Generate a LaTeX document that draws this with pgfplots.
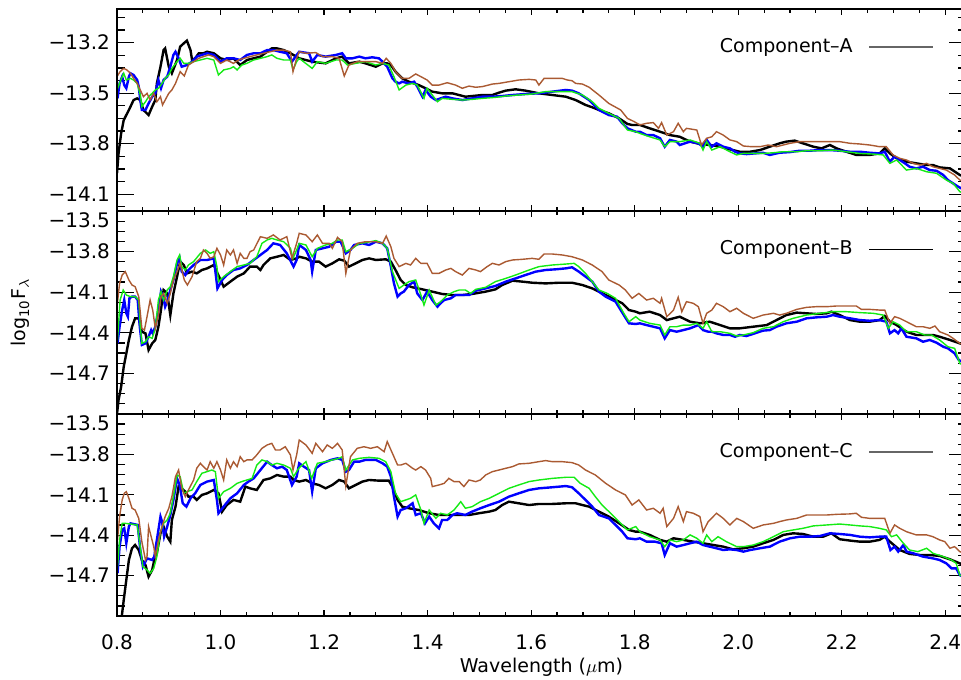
\documentclass[border=0pt]{standalone}
\usepackage{pgfplots}
\pgfplotsset{compat=1.18}
\usepackage{fontspec}
\setmainfont{DejaVu Sans}
\definecolor{cblue}{RGB}{0,0,255}
\definecolor{cgreen}{RGB}{20,235,20}
\definecolor{cbrown}{RGB}{170,90,50}
\pgfplotsset{
  frame/.style 2 args={
    at={(58.5pt,#1)}, anchor=north west,
    scale only axis, width=424.5pt, height=#2,
    xmin=0.8, xmax=2.44,
    xtick={0.8,1.0,1.2,1.4,1.6,1.8,2.0,2.2,2.4},
    axis line style={line width=0.9pt},
    tick style={line width=0.6pt,black},
    tick align=inside,
    ticklabel style={font=\fontsize{10}{12}\selectfont},
    xticklabel style={yshift=-6pt},
    label style={font=\fontsize{9.5}{11}\selectfont},
  },
  panel/.style 2 args={frame={#1}{#2},
    major tick length=8.5pt, minor tick length=4pt,
    xtick style={draw=none}},
  xticks/.style 2 args={frame={#1}{#2},
    ytick=\empty, xticklabels={}, minor x tick num=3,
    major tick length=3pt, minor tick length=2pt},
  black line/.style={black,line width=1.2pt},
  blue line/.style={cblue,line width=1.2pt},
  green line/.style={cgreen,line width=0.7pt},
  brown line/.style={cbrown,line width=0.7pt},
}
\newcommand{\legtext}[2]{%
  \node[anchor=east,inner sep=0pt,font=\fontsize{9.5}{11}\selectfont] at (rel axis cs:0.867,0.812) {Component–#1};
  \draw[#2,line width=0.65pt] (rel axis cs:0.886,0.812) -- (rel axis cs:0.961,0.812);
}
\newcommand{\toplab}{\smash{\raisebox{-8.1pt}{−13.5}}}
\begin{document}
\begin{tikzpicture}
\useasboundingbox (0,0) rectangle (480.5pt,339.5pt);
% ---------------- Panel A ----------------
\begin{axis}[panel={335pt}{101pt},
  ymin=-14.2, ymax=-13.0,
  ytick={-13.2,-13.5,-13.8,-14.1},
  yticklabels={−13.2,−13.5,−13.8,−14.1},
  minor ytick={-13.05,-13.125,-13.275,-13.35,-13.425,-13.575,-13.65,-13.725,-13.875,-13.95,-14.025,-14.175},
  xticklabels={}]
\addplot[black line] coordinates {(0.800,-13.976)(0.803,-13.858)(0.808,-13.739)(0.813,-13.660)(0.823,-13.600)(0.832,-13.541)(0.839,-13.531)(0.845,-13.541)(0.851,-13.600)(0.861,-13.630)(0.868,-13.580)(0.874,-13.541)(0.877,-13.442)(0.884,-13.343)(0.890,-13.244)(0.893,-13.234)(0.900,-13.343)(0.906,-13.382)(0.916,-13.303)(0.922,-13.224)(0.929,-13.204)(0.935,-13.188)(0.942,-13.244)(0.945,-13.303)(0.951,-13.293)(0.958,-13.263)(0.967,-13.263)(0.974,-13.254)(0.987,-13.263)(1.000,-13.293)(1.012,-13.303)(1.025,-13.293)(1.038,-13.333)(1.051,-13.303)(1.064,-13.293)(1.077,-13.283)(1.090,-13.254)(1.099,-13.234)(1.109,-13.234)(1.122,-13.244)(1.135,-13.263)
(1.152,-13.293)(1.177,-13.313)(1.203,-13.323)(1.223,-13.293)(1.235,-13.283)(1.248,-13.323)(1.268,-13.313)(1.280,-13.323)(1.300,-13.343)(1.313,-13.323)(1.322,-13.323)(1.329,-13.333)(1.338,-13.372)(1.351,-13.412)(1.364,-13.432)(1.383,-13.452)(1.396,-13.471)(1.409,-13.491)(1.428,-13.501)(1.448,-13.501)(1.473,-13.521)(1.486,-13.517)(1.506,-13.511)(1.525,-13.511)(1.538,-13.497)(1.551,-13.485)(1.570,-13.477)(1.589,-13.485)(1.615,-13.501)(1.641,-13.511)(1.667,-13.521)(1.686,-13.541)(1.705,-13.570)(1.718,-13.584)(1.731,-13.600)(1.750,-13.620)(1.770,-13.650)(1.786,-13.683)(1.795,-13.689)
(1.810,-13.689)(1.829,-13.709)(1.849,-13.729)(1.868,-13.749)(1.887,-13.759)(1.907,-13.788)(1.926,-13.802)(1.945,-13.808)(1.965,-13.818)(1.984,-13.834)(2.003,-13.848)(2.023,-13.848)(2.042,-13.838)(2.061,-13.818)(2.080,-13.798)(2.093,-13.788)(2.109,-13.782)(2.125,-13.798)(2.145,-13.818)(2.161,-13.828)(2.177,-13.808)(2.190,-13.828)(2.209,-13.848)(2.228,-13.867)(2.254,-13.867)(2.273,-13.858)(2.283,-13.828)(2.293,-13.858)(2.306,-13.887)(2.325,-13.907)(2.344,-13.917)(2.364,-13.927)(2.376,-13.927)(2.389,-13.941)(2.409,-13.947)(2.428,-13.986)(2.44,-14.00)};
\addplot[blue line] coordinates {(0.801,-13.531)(0.805,-13.442)(0.810,-13.402)(0.814,-13.452)(0.818,-13.471)(0.823,-13.402)(0.826,-13.382)(0.832,-13.392)(0.839,-13.422)(0.842,-13.461)(0.845,-13.541)(0.848,-13.600)(0.855,-13.600)(0.861,-13.561)(0.868,-13.521)(0.874,-13.501)(0.880,-13.422)(0.885,-13.471)(0.890,-13.422)(0.897,-13.402)(0.903,-13.343)(0.909,-13.273)(0.913,-13.254)(0.919,-13.293)(0.925,-13.343)(0.935,-13.333)(0.945,-13.313)(0.954,-13.283)(0.964,-13.273)(0.974,-13.263)(0.987,-13.273)(1.000,-13.313)(1.012,-13.293)(1.025,-13.293)(1.038,-13.303)(1.051,-13.273)(1.064,-13.263)(1.077,-13.263)(1.090,-13.244)(1.102,-13.244)(1.115,-13.254)(1.128,-13.263)(1.138,-13.313)(1.147,-13.273)
(1.152,-13.254)(1.171,-13.263)(1.177,-13.313)(1.187,-13.273)(1.203,-13.283)(1.223,-13.273)(1.235,-13.263)(1.242,-13.293)(1.255,-13.293)(1.268,-13.283)(1.280,-13.293)(1.293,-13.287)(1.306,-13.293)(1.313,-13.313)(1.322,-13.343)(1.332,-13.412)(1.338,-13.432)(1.345,-13.442)(1.351,-13.432)(1.364,-13.442)(1.374,-13.432)(1.380,-13.461)(1.390,-13.521)(1.396,-13.481)(1.406,-13.521)(1.416,-13.541)(1.425,-13.531)(1.435,-13.521)(1.448,-13.531)(1.467,-13.541)(1.486,-13.531)(1.506,-13.521)(1.525,-13.521)(1.544,-13.517)(1.564,-13.511)(1.589,-13.505)(1.615,-13.501)(1.641,-13.491)(1.667,-13.481)(1.679,-13.485)(1.692,-13.501)(1.712,-13.541)(1.731,-13.600)(1.750,-13.630)(1.766,-13.640)(1.776,-13.679)(1.786,-13.709)(1.802,-13.729)
(1.810,-13.729)(1.823,-13.749)(1.836,-13.749)(1.849,-13.768)(1.858,-13.818)(1.868,-13.778)(1.881,-13.788)(1.887,-13.808)(1.907,-13.788)(1.923,-13.798)(1.932,-13.818)(1.939,-13.778)(1.949,-13.818)(1.958,-13.798)(1.971,-13.818)(1.984,-13.828)(1.994,-13.848)(2.003,-13.858)(2.016,-13.862)(2.032,-13.858)(2.048,-13.854)(2.061,-13.867)(2.080,-13.854)(2.100,-13.850)(2.119,-13.842)(2.138,-13.842)(2.158,-13.838)(2.177,-13.838)(2.196,-13.842)(2.216,-13.848)(2.235,-13.848)(2.254,-13.854)(2.273,-13.858)(2.283,-13.848)(2.293,-13.907)(2.302,-13.877)(2.312,-13.897)(2.322,-13.917)(2.331,-13.937)(2.344,-13.947)(2.357,-13.937)(2.370,-13.957)(2.383,-13.961)(2.396,-13.986)(2.405,-14.016)(2.415,-14.036)(2.425,-14.056)(2.44,-14.08)};
\addplot[green line] coordinates {(0.800,-13.481)(0.806,-13.432)(0.813,-13.382)(0.818,-13.422)(0.826,-13.412)(0.832,-13.422)(0.839,-13.442)(0.845,-13.511)(0.848,-13.580)(0.855,-13.551)(0.861,-13.521)(0.868,-13.501)(0.874,-13.481)(0.880,-13.471)(0.887,-13.442)(0.893,-13.412)(0.900,-13.392)(0.906,-13.353)(0.916,-13.313)(0.922,-13.293)(0.929,-13.323)(0.938,-13.323)(0.948,-13.313)(0.961,-13.303)(0.974,-13.293)(0.987,-13.303)(0.996,-13.392)(1.006,-13.362)(1.019,-13.353)(1.025,-13.343)(1.032,-13.362)(1.041,-13.333)(1.051,-13.323)(1.064,-13.303)(1.077,-13.293)(1.090,-13.283)(1.099,-13.273)(1.109,-13.293)(1.122,-13.303)(1.135,-13.303)(1.140,-13.362)(1.147,-13.313)
(1.152,-13.293)(1.177,-13.353)(1.187,-13.313)(1.203,-13.323)(1.223,-13.303)(1.235,-13.303)(1.245,-13.333)(1.261,-13.323)(1.280,-13.313)(1.300,-13.333)(1.313,-13.323)(1.325,-13.333)(1.335,-13.402)(1.345,-13.481)(1.358,-13.452)(1.371,-13.442)(1.380,-13.452)(1.393,-13.531)(1.399,-13.471)(1.409,-13.511)(1.419,-13.551)(1.428,-13.531)(1.448,-13.537)(1.467,-13.541)(1.486,-13.537)(1.506,-13.531)(1.531,-13.525)(1.551,-13.517)(1.576,-13.511)(1.602,-13.505)(1.628,-13.491)(1.654,-13.491)(1.679,-13.491)(1.699,-13.511)(1.718,-13.551)(1.731,-13.590)(1.750,-13.620)(1.770,-13.650)(1.786,-13.719)(1.802,-13.729)
(1.810,-13.739)(1.829,-13.759)(1.849,-13.778)(1.858,-13.818)(1.868,-13.788)(1.887,-13.788)(1.907,-13.778)(1.926,-13.798)(1.932,-13.838)(1.939,-13.788)(1.949,-13.838)(1.965,-13.818)(1.984,-13.848)(1.997,-13.867)(2.010,-13.858)(2.029,-13.858)(2.048,-13.858)(2.068,-13.854)(2.087,-13.848)(2.113,-13.848)(2.132,-13.842)(2.158,-13.842)(2.183,-13.838)(2.209,-13.848)(2.235,-13.858)(2.261,-13.862)(2.280,-13.867)(2.293,-13.917)(2.306,-13.897)(2.325,-13.957)(2.344,-13.947)(2.364,-13.967)(2.383,-13.976)(2.402,-14.016)(2.415,-14.036)(2.428,-14.085)(2.44,-14.10)};
\addplot[brown line] coordinates {(0.800,-13.402)(0.806,-13.372)(0.813,-13.353)(0.819,-13.362)(0.826,-13.382)(0.832,-13.412)(0.839,-13.442)(0.845,-13.481)(0.851,-13.521)(0.858,-13.501)(0.864,-13.541)(0.871,-13.501)(0.877,-13.551)(0.884,-13.521)(0.888,-13.570)(0.893,-13.541)(0.900,-13.501)(0.906,-13.481)(0.913,-13.442)(0.922,-13.372)(0.930,-13.398)(0.938,-13.333)(0.948,-13.313)(0.958,-13.293)(0.967,-13.283)(0.977,-13.273)(0.987,-13.283)(1.000,-13.323)(1.012,-13.303)(1.025,-13.323)(1.035,-13.303)(1.045,-13.293)(1.057,-13.283)(1.070,-13.273)(1.083,-13.263)(1.096,-13.254)(1.109,-13.244)(1.122,-13.244)(1.135,-13.254)(1.140,-13.372)(1.147,-13.293)
(1.152,-13.254)(1.165,-13.263)(1.184,-13.259)(1.197,-13.283)(1.216,-13.283)(1.229,-13.293)(1.239,-13.398)(1.248,-13.333)(1.264,-13.313)(1.280,-13.313)(1.300,-13.313)(1.313,-13.323)(1.320,-13.293)(1.329,-13.323)(1.338,-13.372)(1.351,-13.412)(1.364,-13.412)(1.377,-13.386)(1.387,-13.402)(1.399,-13.422)(1.409,-13.452)(1.422,-13.452)(1.438,-13.438)(1.454,-13.452)(1.467,-13.471)(1.480,-13.458)(1.493,-13.465)(1.506,-13.461)(1.525,-13.446)(1.538,-13.442)(1.557,-13.432)(1.576,-13.422)(1.596,-13.418)(1.609,-13.422)(1.615,-13.452)(1.625,-13.412)(1.641,-13.412)(1.660,-13.412)(1.670,-13.422)(1.679,-13.426)(1.686,-13.442)(1.699,-13.446)(1.712,-13.465)(1.731,-13.511)(1.750,-13.561)(1.773,-13.600)(1.786,-13.650)(1.799,-13.669)
(1.810,-13.689)(1.823,-13.679)(1.836,-13.675)(1.846,-13.709)(1.852,-13.675)(1.862,-13.749)(1.875,-13.729)(1.884,-13.679)(1.894,-13.729)(1.900,-13.709)(1.920,-13.719)(1.929,-13.808)(1.939,-13.768)(1.949,-13.759)(1.958,-13.729)(1.971,-13.749)(1.984,-13.778)(1.997,-13.788)(2.010,-13.814)(2.026,-13.818)(2.042,-13.818)(2.058,-13.808)(2.074,-13.818)(2.087,-13.808)(2.100,-13.798)(2.119,-13.788)(2.138,-13.788)(2.158,-13.788)(2.177,-13.788)(2.196,-13.788)(2.216,-13.798)(2.235,-13.802)(2.254,-13.808)(2.273,-13.818)(2.286,-13.818)(2.299,-13.867)(2.312,-13.887)(2.325,-13.897)(2.338,-13.917)(2.351,-13.927)(2.364,-13.917)(2.376,-13.937)(2.389,-13.947)(2.402,-13.957)(2.418,-13.986)(2.428,-14.016)(2.44,-14.03)};
\legtext{A}{black!60}
\end{axis}
\begin{axis}[xticks={335pt}{101pt}, ymin=-14.2, ymax=-13.0]
\end{axis}
% ---------------- Panel B ----------------
\begin{axis}[panel={234pt}{101.5pt},
  ymin=-15.0, ymax=-13.5,
  ytick={-13.5,-13.8,-14.1,-14.4,-14.7},
  yticklabels={\toplab,−13.8,−14.1,−14.4,−14.7},
  minor ytick={-13.575,-13.65,-13.725,-13.875,-13.95,-14.025,-14.175,-14.25,-14.325,-14.475,-14.55,-14.625,-14.775,-14.85,-14.925},
  xticklabels={},
  ylabel={log$_{\mathrm{10}}$F$_{\lambda}$},
  ylabel style={at={(axis description cs:-0.114,0.5)},anchor=center}]
\addplot[black line] coordinates {(0.800,-15.000)(0.803,-14.897)(0.808,-14.798)(0.813,-14.651)(0.818,-14.552)(0.823,-14.453)(0.829,-14.355)(0.835,-14.293)(0.842,-14.293)(0.848,-14.392)(0.855,-14.404)(0.861,-14.527)(0.868,-14.478)(0.874,-14.453)(0.880,-14.355)(0.884,-14.256)(0.890,-14.084)(0.897,-14.109)(0.903,-14.269)(0.909,-14.109)(0.916,-13.985)(0.922,-13.874)(0.929,-13.899)(0.935,-13.961)(0.945,-13.948)(0.954,-13.961)(0.964,-13.936)(0.974,-13.924)(0.987,-13.899)(1.000,-14.010)(1.006,-14.059)(1.019,-14.022)(1.032,-13.985)(1.045,-13.961)(1.057,-13.911)(1.070,-13.911)(1.077,-13.936)(1.083,-13.899)(1.096,-13.850)(1.109,-13.838)(1.122,-13.825)(1.135,-13.862)(1.147,-13.850)
(1.152,-13.838)(1.165,-13.850)(1.177,-13.874)(1.190,-13.874)(1.203,-13.911)(1.216,-13.887)(1.229,-13.857)(1.239,-13.867)(1.248,-13.911)(1.261,-13.887)(1.274,-13.862)(1.287,-13.850)(1.300,-13.862)(1.319,-13.857)(1.329,-13.874)(1.338,-13.936)(1.348,-14.010)(1.358,-14.047)(1.371,-14.064)(1.390,-14.079)(1.409,-14.096)(1.428,-14.113)(1.448,-14.121)(1.467,-14.121)(1.486,-14.113)(1.512,-14.096)(1.531,-14.079)(1.544,-14.047)(1.564,-14.015)(1.583,-14.022)(1.602,-14.030)(1.628,-14.035)(1.654,-14.030)(1.679,-14.030)(1.699,-14.047)(1.718,-14.072)(1.738,-14.109)(1.757,-14.145)(1.776,-14.182)(1.789,-14.232)(1.802,-14.244)
(1.810,-14.256)(1.829,-14.244)(1.849,-14.269)(1.862,-14.306)(1.875,-14.293)(1.887,-14.281)(1.907,-14.318)(1.926,-14.330)(1.945,-14.318)(1.965,-14.343)(1.984,-14.367)(2.003,-14.367)(2.029,-14.355)(2.055,-14.343)(2.074,-14.306)(2.093,-14.269)(2.113,-14.251)(2.132,-14.256)(2.151,-14.261)(2.171,-14.256)(2.180,-14.244)(2.196,-14.269)(2.216,-14.306)(2.235,-14.318)(2.254,-14.318)(2.273,-14.306)(2.283,-14.276)(2.293,-14.318)(2.306,-14.343)(2.325,-14.392)(2.344,-14.416)(2.364,-14.416)(2.376,-14.416)(2.389,-14.429)(2.409,-14.453)(2.428,-14.478)(2.44,-14.49)};
\addplot[blue line] coordinates {(0.801,-14.478)(0.805,-14.355)(0.810,-14.232)(0.814,-14.158)(0.818,-14.256)(0.821,-14.281)(0.824,-14.145)(0.829,-14.133)(0.835,-14.133)(0.840,-14.158)(0.844,-14.355)(0.848,-14.490)(0.855,-14.478)(0.861,-14.429)(0.866,-14.380)(0.869,-14.404)(0.874,-14.355)(0.880,-14.232)(0.885,-14.096)(0.889,-14.133)(0.893,-14.207)(0.897,-14.170)(0.903,-14.084)(0.909,-14.010)(0.916,-13.887)(0.921,-13.850)(0.925,-13.948)(0.932,-13.973)(0.938,-13.936)(0.948,-13.899)(0.961,-13.862)(0.974,-13.862)(0.987,-13.850)(0.994,-14.072)(1.003,-14.010)(1.012,-13.973)(1.025,-13.936)(1.038,-13.924)(1.051,-13.899)(1.064,-13.862)(1.077,-13.825)(1.090,-13.788)(1.102,-13.739)(1.115,-13.751)(1.128,-13.813)(1.141,-13.911)(1.147,-13.862)
(1.152,-13.751)(1.165,-13.788)(1.174,-13.862)(1.177,-13.948)(1.184,-13.788)(1.197,-13.776)(1.210,-13.764)(1.223,-13.727)(1.232,-13.727)(1.242,-13.813)(1.251,-13.788)(1.258,-13.751)(1.274,-13.739)(1.287,-13.751)(1.300,-13.727)(1.313,-13.739)(1.322,-13.776)(1.329,-13.911)(1.335,-14.035)(1.342,-14.133)(1.348,-14.109)(1.354,-14.096)(1.364,-14.047)(1.374,-14.022)(1.380,-14.109)(1.390,-14.158)(1.399,-14.096)(1.409,-14.158)(1.419,-14.207)(1.425,-14.182)(1.432,-14.158)(1.445,-14.145)(1.454,-14.121)(1.467,-14.121)(1.480,-14.121)(1.493,-14.089)(1.512,-14.072)(1.531,-14.054)(1.551,-14.022)(1.570,-13.998)(1.589,-13.973)(1.609,-13.948)(1.628,-13.936)(1.647,-13.931)(1.667,-13.924)(1.679,-13.916)(1.692,-13.948)(1.705,-13.985)(1.718,-14.022)(1.731,-14.096)(1.744,-14.133)(1.763,-14.170)(1.779,-14.269)(1.789,-14.330)(1.802,-14.335)
(1.810,-14.330)(1.823,-14.343)(1.836,-14.355)(1.849,-14.367)(1.858,-14.441)(1.868,-14.380)(1.881,-14.392)(1.894,-14.380)(1.907,-14.367)(1.923,-14.343)(1.932,-14.380)(1.942,-14.392)(1.949,-14.392)(1.958,-14.404)(1.971,-14.416)(1.984,-14.416)(1.994,-14.429)(2.003,-14.416)(2.016,-14.424)(2.032,-14.404)(2.048,-14.384)(2.061,-14.380)(2.074,-14.355)(2.093,-14.330)(2.113,-14.318)(2.132,-14.293)(2.151,-14.286)(2.171,-14.281)(2.183,-14.269)(2.196,-14.281)(2.216,-14.293)(2.235,-14.306)(2.254,-14.311)(2.273,-14.306)(2.286,-14.318)(2.293,-14.404)(2.302,-14.380)(2.309,-14.404)(2.315,-14.367)(2.325,-14.429)(2.344,-14.441)(2.357,-14.466)(2.370,-14.453)(2.383,-14.473)(2.396,-14.503)(2.405,-14.515)(2.418,-14.552)(2.426,-14.601)(2.44,-14.63)};
\addplot[green line] coordinates {(0.801,-14.453)(0.806,-14.158)(0.812,-14.084)(0.818,-14.121)(0.826,-14.133)(0.835,-14.133)(0.842,-14.158)(0.845,-14.355)(0.848,-14.478)(0.855,-14.466)(0.861,-14.429)(0.868,-14.441)(0.874,-14.367)(0.880,-14.158)(0.885,-14.096)(0.890,-14.158)(0.897,-14.084)(0.903,-14.059)(0.909,-13.985)(0.916,-13.862)(0.921,-13.825)(0.925,-13.911)(0.932,-13.936)(0.938,-13.899)(0.948,-13.874)(0.961,-13.813)(0.971,-13.788)(0.980,-13.813)(0.987,-13.801)(0.993,-13.911)(0.996,-14.022)(1.006,-13.985)(1.019,-13.948)(1.032,-13.911)(1.045,-13.899)(1.057,-13.887)(1.070,-13.838)(1.080,-13.739)(1.090,-13.714)(1.099,-13.702)(1.109,-13.714)(1.122,-13.727)(1.135,-13.776)(1.140,-13.850)(1.147,-13.788)
(1.152,-13.739)(1.165,-13.751)(1.177,-13.838)(1.187,-13.776)(1.203,-13.751)(1.216,-13.739)(1.226,-13.714)(1.235,-13.714)(1.242,-13.801)(1.255,-13.776)(1.268,-13.739)(1.280,-13.734)(1.300,-13.719)(1.313,-13.739)(1.322,-13.776)(1.332,-13.948)(1.345,-14.072)(1.354,-14.047)(1.364,-14.022)(1.377,-14.010)(1.387,-14.121)(1.393,-14.195)(1.403,-14.084)(1.416,-14.195)(1.425,-14.170)(1.438,-14.121)(1.451,-14.096)(1.461,-14.084)(1.473,-14.084)(1.483,-14.109)(1.493,-14.079)(1.512,-14.064)(1.531,-14.022)(1.551,-13.998)(1.570,-13.973)(1.596,-13.936)(1.615,-13.911)(1.641,-13.899)(1.667,-13.892)(1.683,-13.887)(1.692,-13.911)(1.705,-13.961)(1.718,-14.022)(1.731,-14.084)(1.747,-14.109)(1.763,-14.145)(1.779,-14.256)(1.789,-14.318)(1.802,-14.281)
(1.810,-14.306)(1.829,-14.330)(1.849,-14.343)(1.858,-14.416)(1.868,-14.355)(1.881,-14.355)(1.894,-14.343)(1.907,-14.343)(1.920,-14.330)(1.932,-14.367)(1.939,-14.318)(1.949,-14.392)(1.965,-14.392)(1.984,-14.404)(1.997,-14.424)(2.010,-14.416)(2.029,-14.399)(2.048,-14.367)(2.068,-14.355)(2.087,-14.318)(2.106,-14.293)(2.132,-14.269)(2.158,-14.256)(2.183,-14.244)(2.209,-14.244)(2.235,-14.251)(2.261,-14.256)(2.280,-14.269)(2.290,-14.367)(2.299,-14.318)(2.312,-14.343)(2.325,-14.392)(2.344,-14.392)(2.360,-14.416)(2.373,-14.416)(2.389,-14.453)(2.405,-14.503)(2.418,-14.515)(2.428,-14.626)(2.44,-14.65)};
\addplot[brown line] coordinates {(0.800,-14.207)(0.805,-14.035)(0.810,-13.973)(0.816,-13.948)(0.823,-14.010)(0.829,-14.047)(0.835,-14.059)(0.842,-14.133)(0.848,-14.367)(0.853,-14.380)(0.858,-14.281)(0.864,-14.158)(0.869,-14.232)(0.874,-14.367)(0.880,-14.269)(0.885,-14.133)(0.890,-14.109)(0.897,-14.182)(0.903,-14.109)(0.909,-14.010)(0.916,-13.948)(0.922,-13.887)(0.930,-14.010)(0.936,-14.047)(0.945,-13.985)(0.954,-13.874)(0.961,-13.850)(0.967,-13.788)(0.974,-13.813)(0.980,-13.850)(0.987,-13.838)(0.993,-13.776)(1.000,-13.825)(1.006,-13.899)(1.012,-13.788)(1.019,-13.825)(1.025,-13.788)(1.032,-13.887)(1.038,-13.813)(1.045,-13.850)(1.051,-13.850)(1.057,-13.801)(1.064,-13.788)(1.077,-13.690)(1.090,-13.702)(1.102,-13.677)(1.115,-13.714)(1.128,-13.690)(1.138,-13.850)(1.147,-13.739)
(1.152,-13.665)(1.165,-13.677)(1.177,-13.727)(1.187,-13.677)(1.197,-13.739)(1.210,-13.739)(1.216,-13.776)(1.226,-13.695)(1.235,-13.727)(1.242,-13.961)(1.251,-13.788)(1.264,-13.739)(1.280,-13.727)(1.300,-13.727)(1.313,-13.739)(1.320,-13.685)(1.329,-13.764)(1.335,-13.850)(1.345,-13.911)(1.358,-13.887)(1.367,-13.899)(1.377,-13.850)(1.387,-13.887)(1.399,-13.887)(1.409,-13.961)(1.422,-13.961)(1.435,-13.936)(1.445,-13.924)(1.454,-13.948)(1.467,-13.973)(1.480,-13.924)(1.493,-13.936)(1.502,-13.948)(1.515,-13.911)(1.525,-13.887)(1.538,-13.899)(1.551,-13.874)(1.564,-13.862)(1.583,-13.857)(1.602,-13.850)(1.615,-13.857)(1.625,-13.818)(1.641,-13.818)(1.660,-13.825)(1.679,-13.838)(1.699,-13.862)(1.718,-13.899)(1.737,-13.948)(1.750,-14.010)(1.770,-14.047)(1.782,-14.084)(1.795,-14.145)(1.808,-14.109)
(1.823,-14.158)(1.836,-14.145)(1.849,-14.182)(1.852,-14.145)(1.862,-14.281)(1.875,-14.232)(1.884,-14.138)(1.891,-14.244)(1.900,-14.170)(1.913,-14.182)(1.923,-14.207)(1.932,-14.330)(1.939,-14.256)(1.949,-14.232)(1.958,-14.182)(1.971,-14.207)(1.984,-14.244)(1.997,-14.219)(2.010,-14.256)(2.029,-14.293)(2.048,-14.269)(2.068,-14.256)(2.080,-14.269)(2.093,-14.256)(2.113,-14.227)(2.132,-14.212)(2.151,-14.207)(2.171,-14.207)(2.190,-14.202)(2.209,-14.202)(2.228,-14.202)(2.238,-14.227)(2.254,-14.227)(2.273,-14.232)(2.283,-14.232)(2.293,-14.330)(2.302,-14.281)(2.312,-14.293)(2.325,-14.318)(2.344,-14.355)(2.357,-14.355)(2.370,-14.367)(2.380,-14.350)(2.389,-14.392)(2.405,-14.416)(2.415,-14.441)(2.428,-14.478)(2.44,-14.49)};
\legtext{B}{black}
\end{axis}
\begin{axis}[xticks={234pt}{101.5pt}, ymin=-15.0, ymax=-13.5]
\end{axis}
% ---------------- Panel C ----------------
\begin{axis}[panel={132.5pt}{101pt},
  ymin=-15.0, ymax=-13.5,
  ytick={-13.5,-13.8,-14.1,-14.4,-14.7},
  yticklabels={\toplab,−13.8,−14.1,−14.4,−14.7},
  minor ytick={-13.575,-13.65,-13.725,-13.875,-13.95,-14.025,-14.175,-14.25,-14.325,-14.475,-14.55,-14.625,-14.775,-14.85,-14.925},
  xticklabels={0.8,1.0,1.2,1.4,1.6,1.8,2.0,2.2,2.4},
  xlabel={Wavelength ($\mu$m)},
  xlabel style={at={(axis description cs:0.5,-0.2525)},anchor=center}]
\addplot[black line] coordinates {(0.800,-15.300)(0.813,-14.881)(0.818,-14.732)(0.823,-14.584)(0.829,-14.497)(0.835,-14.473)(0.842,-14.510)(0.848,-14.584)(0.855,-14.621)(0.861,-14.708)(0.868,-14.658)(0.872,-14.584)(0.877,-14.534)(0.884,-14.386)(0.890,-14.336)(0.897,-14.411)(0.903,-14.448)(0.906,-14.287)(0.913,-14.188)(0.919,-14.039)(0.925,-14.052)(0.932,-14.077)(0.938,-14.114)(0.948,-14.114)(0.954,-14.138)(0.964,-14.101)(0.974,-14.089)(0.987,-14.064)(0.996,-14.089)(1.003,-14.225)(1.012,-14.176)(1.025,-14.138)(1.038,-14.151)(1.048,-14.039)(1.057,-14.052)(1.070,-14.064)(1.083,-13.990)(1.096,-13.978)(1.109,-13.953)(1.122,-13.965)(1.135,-13.965)(1.141,-13.990)
(1.152,-14.002)(1.165,-13.990)(1.177,-14.015)(1.190,-14.027)(1.203,-14.052)(1.216,-14.027)(1.229,-13.990)(1.239,-14.002)(1.248,-14.052)(1.261,-14.027)(1.274,-14.002)(1.287,-13.990)(1.306,-13.995)(1.325,-13.995)(1.332,-14.039)(1.342,-14.138)(1.351,-14.188)(1.364,-14.200)(1.383,-14.213)(1.403,-14.237)(1.422,-14.250)(1.441,-14.250)(1.461,-14.250)(1.480,-14.250)(1.499,-14.237)(1.519,-14.225)(1.531,-14.213)(1.544,-14.176)(1.557,-14.151)(1.576,-14.163)(1.596,-14.176)(1.615,-14.168)(1.641,-14.168)(1.667,-14.163)(1.686,-14.163)(1.699,-14.176)(1.712,-14.188)(1.731,-14.225)(1.750,-14.262)(1.770,-14.312)(1.789,-14.361)(1.802,-14.374)
(1.810,-14.374)(1.829,-14.398)(1.849,-14.435)(1.862,-14.448)(1.875,-14.423)(1.894,-14.435)(1.913,-14.448)(1.932,-14.460)(1.952,-14.473)(1.971,-14.485)(1.990,-14.505)(2.010,-14.497)(2.029,-14.485)(2.048,-14.460)(2.068,-14.435)(2.087,-14.398)(2.106,-14.386)(2.125,-14.391)(2.145,-14.411)(2.164,-14.411)(2.180,-14.386)(2.196,-14.430)(2.216,-14.440)(2.235,-14.448)(2.254,-14.448)(2.273,-14.435)(2.283,-14.411)(2.293,-14.448)(2.312,-14.510)(2.331,-14.539)(2.351,-14.547)(2.370,-14.547)(2.389,-14.554)(2.409,-14.579)(2.428,-14.609)(2.44,-14.63)};
\addplot[blue line] coordinates {(0.801,-14.683)(0.805,-14.485)(0.810,-14.361)(0.814,-14.349)(0.818,-14.460)(0.823,-14.336)(0.826,-14.312)(0.832,-14.317)(0.840,-14.324)(0.845,-14.510)(0.850,-14.633)(0.858,-14.572)(0.868,-14.584)(0.872,-14.559)(0.877,-14.435)(0.884,-14.262)(0.887,-14.299)(0.891,-14.411)(0.897,-14.336)(0.903,-14.250)(0.909,-14.138)(0.916,-13.978)(0.921,-14.027)(0.927,-14.163)(0.934,-14.188)(0.942,-14.126)(0.951,-14.089)(0.961,-14.027)(0.974,-14.002)(0.987,-13.990)(0.993,-14.138)(0.996,-14.237)(1.006,-14.188)(1.019,-14.126)(1.032,-14.089)(1.045,-14.027)(1.054,-14.002)(1.064,-13.978)(1.077,-13.916)(1.090,-13.854)(1.099,-13.879)(1.109,-13.903)(1.119,-13.891)(1.128,-13.916)(1.138,-14.027)(1.147,-13.965)
(1.152,-13.866)(1.161,-13.891)(1.171,-13.916)(1.177,-14.077)(1.184,-13.903)(1.197,-13.866)(1.213,-13.841)(1.226,-13.829)(1.235,-13.841)(1.242,-13.928)(1.248,-13.916)(1.258,-13.854)(1.268,-13.854)(1.280,-13.841)(1.300,-13.841)(1.313,-13.866)(1.322,-13.891)(1.329,-13.965)(1.335,-14.114)(1.342,-14.262)(1.348,-14.213)(1.358,-14.200)(1.371,-14.163)(1.377,-14.250)(1.387,-14.237)(1.395,-14.312)(1.403,-14.262)(1.412,-14.312)(1.422,-14.349)(1.428,-14.287)(1.438,-14.287)(1.448,-14.250)(1.457,-14.237)(1.473,-14.250)(1.486,-14.225)(1.502,-14.200)(1.519,-14.176)(1.538,-14.151)(1.557,-14.114)(1.576,-14.089)(1.596,-14.064)(1.615,-14.052)(1.641,-14.044)(1.667,-14.035)(1.679,-14.044)(1.692,-14.089)(1.705,-14.138)(1.718,-14.188)(1.731,-14.250)(1.750,-14.275)(1.763,-14.324)(1.776,-14.374)(1.786,-14.423)(1.802,-14.430)
(1.810,-14.423)(1.823,-14.448)(1.839,-14.448)(1.852,-14.460)(1.858,-14.547)(1.868,-14.460)(1.881,-14.485)(1.894,-14.473)(1.907,-14.460)(1.920,-14.448)(1.932,-14.473)(1.945,-14.485)(1.958,-14.497)(1.971,-14.510)(1.984,-14.505)(1.997,-14.510)(2.010,-14.522)(2.023,-14.510)(2.042,-14.497)(2.061,-14.485)(2.080,-14.448)(2.100,-14.423)(2.119,-14.411)(2.138,-14.411)(2.158,-14.406)(2.177,-14.386)(2.196,-14.391)(2.216,-14.398)(2.235,-14.411)(2.254,-14.416)(2.273,-14.411)(2.286,-14.411)(2.294,-14.510)(2.302,-14.485)(2.309,-14.522)(2.319,-14.473)(2.325,-14.522)(2.338,-14.534)(2.357,-14.559)(2.376,-14.572)(2.389,-14.584)(2.402,-14.609)(2.412,-14.646)(2.421,-14.646)(2.428,-14.696)(2.44,-14.72)};
\addplot[green line] coordinates {(0.801,-14.633)(0.805,-14.435)(0.810,-14.312)(0.816,-14.312)(0.826,-14.317)(0.839,-14.324)(0.844,-14.460)(0.850,-14.633)(0.858,-14.658)(0.864,-14.683)(0.871,-14.646)(0.877,-14.559)(0.884,-14.374)(0.890,-14.312)(0.897,-14.287)(0.903,-14.237)(0.909,-14.114)(0.916,-13.953)(0.922,-13.965)(0.929,-14.089)(0.935,-14.077)(0.945,-14.064)(0.954,-14.002)(0.964,-13.940)(0.974,-13.928)(0.983,-13.916)(0.990,-13.928)(0.996,-14.126)(1.006,-14.077)(1.019,-14.052)(1.032,-14.015)(1.041,-14.002)(1.051,-13.990)(1.061,-13.978)(1.070,-13.879)(1.080,-13.841)(1.090,-13.854)(1.099,-13.879)(1.109,-13.866)(1.122,-13.879)(1.135,-13.903)(1.141,-13.965)(1.151,-13.903)
(1.165,-13.854)(1.176,-13.978)(1.187,-13.866)(1.203,-13.854)(1.216,-13.841)(1.229,-13.829)(1.235,-13.817)(1.242,-13.916)(1.255,-13.841)(1.268,-13.829)(1.287,-13.822)(1.306,-13.829)(1.319,-13.854)(1.329,-13.928)(1.338,-14.089)(1.348,-14.151)(1.358,-14.138)(1.367,-14.126)(1.377,-14.101)(1.387,-14.213)(1.393,-14.312)(1.403,-14.213)(1.416,-14.275)(1.425,-14.237)(1.438,-14.250)(1.451,-14.213)(1.464,-14.151)(1.473,-14.200)(1.486,-14.188)(1.502,-14.151)(1.519,-14.126)(1.538,-14.089)(1.557,-14.052)(1.576,-14.027)(1.596,-14.002)(1.615,-13.990)(1.641,-13.978)(1.667,-13.970)(1.683,-13.970)(1.695,-14.015)(1.712,-14.052)(1.724,-14.114)(1.737,-14.176)(1.757,-14.250)(1.773,-14.312)(1.786,-14.361)(1.802,-14.336)
(1.810,-14.374)(1.829,-14.411)(1.849,-14.435)(1.858,-14.485)(1.868,-14.435)(1.881,-14.448)(1.894,-14.435)(1.907,-14.398)(1.920,-14.423)(1.932,-14.460)(1.939,-14.398)(1.949,-14.448)(1.961,-14.411)(1.977,-14.448)(1.997,-14.485)(2.010,-14.485)(2.029,-14.473)(2.048,-14.448)(2.068,-14.411)(2.087,-14.374)(2.106,-14.361)(2.125,-14.349)(2.145,-14.331)(2.171,-14.324)(2.196,-14.317)(2.216,-14.324)(2.235,-14.331)(2.254,-14.336)(2.273,-14.349)(2.286,-14.361)(2.296,-14.411)(2.306,-14.398)(2.319,-14.460)(2.331,-14.510)(2.347,-14.522)(2.364,-14.497)(2.376,-14.534)(2.396,-14.559)(2.412,-14.584)(2.421,-14.609)(2.428,-14.696)(2.44,-14.72)};
\addplot[brown line] coordinates {(0.801,-14.435)(0.805,-14.262)(0.810,-14.138)(0.814,-14.089)(0.818,-14.077)(0.823,-14.126)(0.829,-14.200)(0.835,-14.213)(0.842,-14.275)(0.848,-14.448)(0.855,-14.584)(0.858,-14.559)(0.861,-14.336)(0.866,-14.411)(0.871,-14.485)(0.874,-14.559)(0.880,-14.435)(0.887,-14.336)(0.893,-14.262)(0.900,-14.200)(0.906,-14.114)(0.913,-13.965)(0.919,-13.916)(0.925,-14.052)(0.932,-14.114)(0.938,-14.064)(0.948,-13.990)(0.954,-13.903)(0.961,-13.866)(0.967,-13.891)(0.974,-13.916)(0.980,-13.854)(0.987,-13.903)(0.993,-13.854)(1.000,-13.916)(1.006,-13.990)(1.012,-13.841)(1.019,-13.903)(1.025,-13.854)(1.032,-13.891)(1.038,-13.817)(1.045,-13.854)(1.051,-13.841)(1.061,-13.841)(1.070,-13.804)(1.080,-13.755)(1.090,-13.730)(1.099,-13.718)(1.106,-13.767)(1.115,-13.767)(1.125,-13.743)(1.135,-13.804)(1.140,-13.916)(1.147,-13.804)
(1.152,-13.693)(1.165,-13.730)(1.177,-13.792)(1.184,-13.718)(1.197,-13.780)(1.206,-13.730)(1.216,-13.755)(1.226,-13.718)(1.235,-13.767)(1.242,-14.035)(1.251,-13.817)(1.264,-13.755)(1.277,-13.743)(1.290,-13.755)(1.303,-13.743)(1.316,-13.780)(1.322,-13.705)(1.332,-13.792)(1.342,-13.879)(1.348,-13.879)(1.358,-13.866)(1.371,-13.903)(1.377,-13.916)(1.387,-13.891)(1.396,-13.916)(1.406,-13.978)(1.409,-14.039)(1.422,-14.027)(1.432,-14.015)(1.441,-13.978)(1.451,-14.002)(1.461,-14.002)(1.470,-14.039)(1.480,-13.990)(1.493,-14.002)(1.502,-13.990)(1.512,-13.953)(1.525,-13.928)(1.538,-13.916)(1.551,-13.903)(1.564,-13.891)(1.576,-13.871)(1.596,-13.866)(1.615,-13.854)(1.628,-13.846)(1.641,-13.854)(1.660,-13.854)(1.679,-13.861)(1.692,-13.879)(1.705,-13.916)(1.724,-13.953)(1.744,-14.015)(1.763,-14.064)(1.782,-14.101)(1.795,-14.176)(1.808,-14.138)
(1.823,-14.213)(1.836,-14.200)(1.849,-14.237)(1.855,-14.200)(1.862,-14.336)(1.875,-14.275)(1.884,-14.188)(1.894,-14.299)(1.900,-14.225)(1.913,-14.237)(1.926,-14.262)(1.932,-14.374)(1.942,-14.299)(1.958,-14.237)(1.971,-14.275)(1.984,-14.324)(1.997,-14.275)(2.010,-14.299)(2.029,-14.349)(2.048,-14.324)(2.068,-14.312)(2.080,-14.299)(2.093,-14.287)(2.113,-14.275)(2.132,-14.250)(2.151,-14.250)(2.171,-14.250)(2.190,-14.245)(2.216,-14.242)(2.228,-14.237)(2.238,-14.267)(2.254,-14.275)(2.273,-14.275)(2.283,-14.275)(2.293,-14.386)(2.302,-14.324)(2.312,-14.349)(2.325,-14.374)(2.344,-14.398)(2.364,-14.398)(2.376,-14.411)(2.389,-14.435)(2.399,-14.448)(2.409,-14.497)(2.418,-14.485)(2.428,-14.522)(2.44,-14.54)};
\legtext{C}{black!60}
\end{axis}
\begin{axis}[xticks={132.5pt}{101pt}, ymin=-15.0, ymax=-13.5]
\end{axis}
\end{tikzpicture}
\end{document}
